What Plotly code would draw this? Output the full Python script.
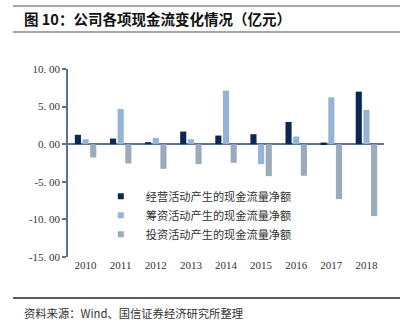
import plotly.graph_objects as go

years = ["2010", "2011", "2012", "2013", "2014", "2015", "2016", "2017", "2018"]
operating = [1.25, 0.75, 0.27, 1.68, 1.15, 1.33, 2.96, 0.22, 6.99]
financing = [0.66, 4.69, 0.84, 0.66, 7.12, -2.65, 1.02, 6.24, 4.56]
investing = [-1.77, -2.57, -3.27, -2.65, -2.48, -4.25, -4.20, -7.30, -9.56]
names = ["经营活动产生的现金流量净额", "筹资活动产生的现金流量净额", "投资活动产生的现金流量净额"]
colors = ["#0c2753", "#95b3d7", "#9aabbc"]
tick_vals = [10, 5, 0, -5, -10, -15]
tick_text = ["10. 00", "5. 00", "0. 00", "-5. 00", "-10. 00", "-15. 00"]

fig = go.Figure()
for vals, name, col in zip([operating, financing, investing], names, colors):
    fig.add_trace(go.Bar(x=years, y=vals, name=name, marker_color=col,
                         marker_line_width=0, showlegend=False))
    fig.add_trace(go.Scatter(x=[None], y=[None], mode="markers", name=name,
                             marker=dict(symbol="square", size=6, color=col)))

fig.update_layout(
    width=414, height=327,
    margin=dict(l=68, r=30, t=69, b=70),
    paper_bgcolor="white", plot_bgcolor="white",
    barmode="group", bargap=0.345, bargroupgap=0.2,
    font=dict(family="Liberation Serif", color="#222222", size=11),
    showlegend=True,
    legend=dict(x=0.088, y=0.40, xanchor="left", yanchor="top",
                bgcolor="rgba(0,0,0,0)", itemwidth=40,
                font=dict(family="Noto Sans CJK SC", size=11.2, color="#333333"),
                tracegroupgap=0),
)
fig.update_yaxes(range=[-15, 10], tickvals=tick_vals, ticktext=tick_text,
                 showgrid=False, zeroline=True, zerolinecolor="#5b7391", zerolinewidth=1.5,
                 showline=True, linecolor="#5b7391", linewidth=1.5,
                 ticks="outside", ticklen=4, tickcolor="#5b7391", tickwidth=1.5,
                 tickfont=dict(family="Liberation Serif", size=11, color="#333333"))
fig.update_xaxes(type="category", showgrid=False, showline=False, ticks="",
                 tickfont=dict(family="Liberation Serif", size=11, color="#333333"))

# header/footer decorations
fig.add_shape(type="line", xref="paper", yref="paper", x0=-55/316, x1=332/316,
              y0=1 + 63/188, y1=1 + 63/188, line=dict(color="#888888", width=1.5))
fig.add_shape(type="line", xref="paper", yref="paper", x0=-55/316, x1=332/316,
              y0=1 + 37/188, y1=1 + 37/188, line=dict(color="#888888", width=1.5))
fig.add_shape(type="line", xref="paper", yref="paper", x0=-55/316, x1=332/316,
              y0=-41/188, y1=-41/188, line=dict(color="#222222", width=1.5))
fig.add_annotation(text="<b>图 10：公司各项现金流变化情况（亿元）</b>", xref="paper", yref="paper",
                   x=-46/316, y=1 + 51/188, xanchor="left", yanchor="middle", showarrow=False,
                   font=dict(family="Noto Sans CJK SC", size=14.5, color="#111111"))
fig.add_annotation(text="资料来源：Wind、国信证券经济研究所整理", xref="paper", yref="paper",
                   x=-46/316, y=-56/188, xanchor="left", yanchor="middle", showarrow=False,
                   font=dict(family="Noto Sans CJK SC", size=11.3, color="#333333"))

fig.write_html("out.html")
